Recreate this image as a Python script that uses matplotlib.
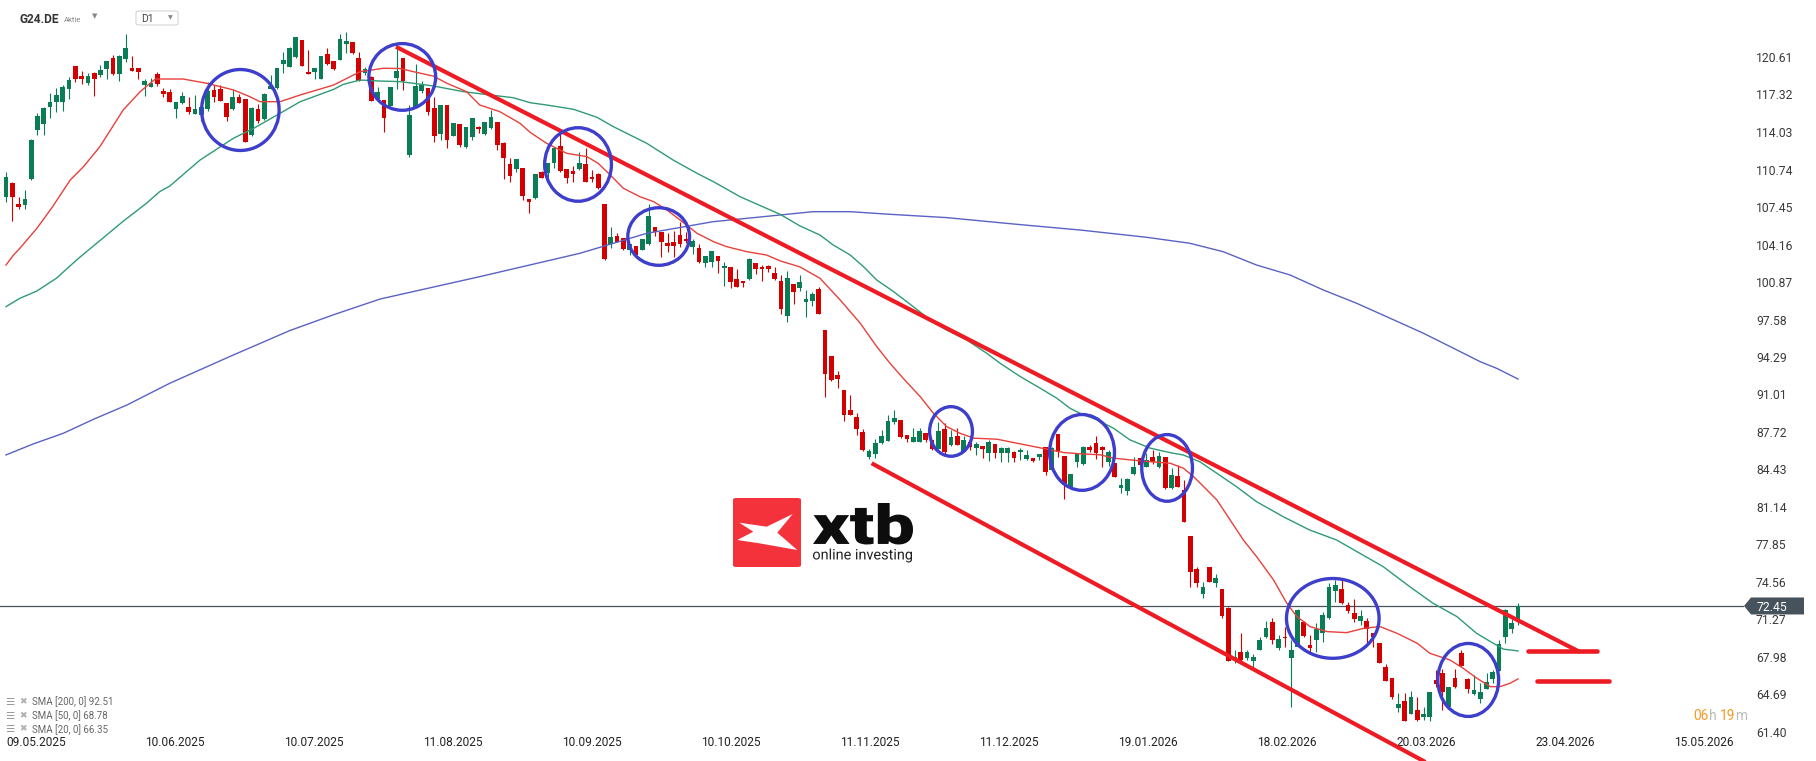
import numpy as np
import matplotlib
matplotlib.use("Agg")
import matplotlib.pyplot as plt
from matplotlib.patches import Ellipse, Polygon, PathPatch, FancyBboxPatch
from matplotlib.textpath import TextPath
from matplotlib.font_manager import FontProperties
from matplotlib.transforms import Affine2D, blended_transform_factory

W, H = 1816, 761

# ---- daily candles ----
opens = [108.36, 109.53, 107.72, 107.66, 109.91, 114.21, 114.70, 116.25, 116.63, 116.63,
         117.83, 119.82, 118.94, 118.36, 119.24, 119.00, 119.53, 120.49, 119.12, 120.43,
         119.62, 119.62, 118.12, 118.01, 119.09, 117.66, 117.51, 116.05, 116.55, 116.19,
         115.61, 115.52, 116.02, 117.72, 117.77, 116.55, 116.02, 117.13, 116.93, 113.77,
         116.02, 115.14, 117.83, 117.86, 120.00, 119.76, 120.58, 122.10, 119.32, 119.32,
         118.68, 120.87, 120.26, 120.35, 121.78, 121.90, 120.49, 119.18, 118.88, 116.93,
         116.84, 116.34, 118.80, 120.49, 112.01, 116.19, 117.66, 117.86, 116.11, 113.88,
         116.37, 113.71, 114.70, 112.69, 113.62, 114.47, 113.83, 114.35, 114.88, 113.04,
         111.19, 110.79, 110.85, 108.12, 108.21, 110.55, 110.41, 111.28, 112.80, 110.79,
         110.58, 110.76, 111.22, 110.05, 110.35, 107.72, 104.18, 104.94, 104.70, 103.68,
         104.03, 103.68, 104.18, 105.70, 105.23, 104.32, 104.41, 105.00, 104.67, 103.91,
         103.88, 102.51, 102.60, 103.15, 102.10, 102.19, 101.11, 100.96, 101.11, 102.51,
         102.22, 102.31, 101.63, 100.96, 97.92, 100.70, 100.37, 99.15, 99.23, 100.26,
         96.66, 94.38, 92.71, 91.40, 89.64, 89.06, 87.74, 85.49, 85.78, 86.72,
         86.95, 88.62, 88.77, 87.45, 86.87, 86.87, 87.60, 87.01, 86.22, 87.98,
         86.57, 87.36, 85.99, 86.87, 86.28, 86.49, 85.84, 86.63, 85.84, 85.84,
         85.99, 85.93, 85.34, 85.40, 85.49, 86.37, 84.38, 87.54, 85.61, 82.92,
         85.11, 84.88, 86.43, 86.72, 86.43, 85.11, 84.96, 82.83, 82.57, 84.00,
         85.40, 84.67, 85.49, 84.67, 85.49, 82.78, 83.86, 82.63, 78.59, 75.70,
         73.48, 75.85, 74.44, 73.95, 72.31, 67.72, 68.39, 67.86, 67.66, 68.59,
         69.71, 71.02, 68.74, 69.76, 67.86, 68.89, 71.08, 69.03, 69.47, 70.11,
         71.37, 73.77, 73.92, 72.54, 71.81, 71.17, 71.14, 70.06, 69.18, 67.07,
         66.11, 63.48, 64.12, 62.98, 63.33, 62.69, 62.69, 65.96, 66.55, 63.56,
         66.17, 68.36, 66.02, 64.71, 64.27, 65.17, 66.02, 66.78, 69.71, 70.41,
         71.17]
highs = [110.49, 109.67, 108.30, 108.94, 113.40, 115.67, 116.25, 117.42, 117.86, 118.15,
         118.83, 119.85, 119.38, 119.24, 119.30, 119.91, 120.30, 120.79, 120.79, 122.60,
         120.70, 119.65, 118.68, 118.74, 119.26, 117.86, 117.80, 116.66, 117.57, 117.13,
         117.28, 116.84, 118.45, 118.15, 118.15, 116.58, 117.72, 117.36, 116.96, 116.20,
         116.49, 117.42, 119.03, 119.65, 121.08, 121.46, 122.38, 122.14, 121.22, 119.65,
         120.73, 121.37, 120.29, 122.60, 122.77, 121.93, 121.08, 119.70, 118.91, 117.95,
         116.87, 117.98, 121.52, 120.52, 116.40, 119.97, 118.50, 117.89, 117.13, 116.40,
         116.40, 114.82, 114.73, 114.47, 115.26, 114.56, 114.94, 115.96, 114.91, 113.18,
         111.72, 111.66, 110.88, 108.15, 110.38, 110.58, 111.31, 112.69, 114.06, 110.82,
         111.05, 112.31, 112.60, 110.70, 110.41, 107.75, 105.73, 105.14, 104.73, 104.21,
         104.06, 104.65, 107.72, 105.73, 105.26, 105.14, 105.35, 106.11, 105.29, 104.62,
         104.18, 103.18, 103.62, 103.18, 102.66, 102.22, 101.98, 100.99, 103.01, 102.54,
         102.36, 102.34, 102.22, 101.49, 101.84, 100.73, 101.49, 100.17, 100.02, 100.46,
         96.69, 94.41, 93.09, 91.43, 90.96, 89.35, 87.95, 86.19, 87.07, 87.89,
         89.20, 89.64, 88.80, 87.48, 88.03, 88.03, 87.63, 87.04, 88.62, 88.47,
         87.89, 88.03, 87.36, 86.90, 86.81, 86.52, 87.01, 86.66, 86.37, 86.37,
         86.02, 86.34, 86.13, 85.43, 85.81, 86.40, 86.37, 87.57, 85.64, 84.03,
         85.78, 86.46, 86.57, 87.36, 86.46, 86.13, 84.99, 83.71, 83.65, 85.55,
         85.43, 85.84, 86.13, 85.99, 85.52, 84.59, 84.82, 83.51, 78.62, 75.90,
         74.59, 75.88, 75.26, 73.98, 72.34, 68.59, 70.11, 68.59, 68.24, 69.76,
         71.17, 71.43, 69.91, 70.64, 69.50, 72.16, 71.11, 69.91, 70.99, 71.96,
         74.44, 74.73, 74.73, 72.83, 73.07, 72.10, 71.37, 70.09, 69.21, 67.37,
         66.14, 64.79, 64.79, 65.03, 64.50, 63.62, 64.91, 66.84, 66.90, 65.35,
         66.90, 68.59, 66.11, 66.40, 65.67, 66.55, 66.84, 69.47, 72.16, 71.28,
         72.75]
lows = [107.86, 106.25, 107.25, 107.28, 109.85, 113.80, 113.80, 115.29, 115.81, 115.90,
        116.90, 118.39, 118.24, 118.15, 117.22, 118.88, 118.68, 119.05, 118.53, 120.20,
        119.35, 118.65, 117.22, 117.98, 118.07, 117.13, 116.65, 115.23, 116.50, 115.58,
        115.58, 115.03, 115.87, 116.69, 116.75, 115.03, 115.98, 116.57, 113.15, 113.70,
        114.85, 115.10, 117.80, 117.82, 119.24, 119.72, 120.55, 119.82, 119.08, 118.65,
        118.65, 119.94, 119.47, 120.32, 120.93, 120.84, 118.50, 119.00, 116.75, 116.90,
        114.00, 116.30, 117.77, 117.72, 111.81, 116.15, 117.42, 115.52, 113.18, 113.33,
        112.60, 113.68, 112.69, 112.66, 113.33, 113.97, 113.80, 114.32, 112.45, 109.91,
        109.67, 110.55, 108.07, 106.90, 108.18, 109.97, 110.11, 110.85, 110.55, 109.59,
        109.67, 110.73, 109.64, 109.67, 109.03, 102.83, 103.83, 104.38, 103.68, 103.24,
        103.15, 103.65, 104.15, 104.91, 103.10, 103.53, 103.10, 103.97, 104.27, 103.33,
        102.57, 102.22, 102.22, 101.63, 100.55, 100.32, 100.43, 100.41, 101.08, 101.57,
        100.99, 101.78, 101.05, 98.06, 97.39, 98.94, 100.11, 97.83, 98.80, 98.03,
        90.81, 92.21, 91.60, 88.71, 89.17, 87.45, 86.05, 85.32, 85.40, 86.66,
        86.92, 88.41, 87.16, 86.87, 86.84, 86.84, 86.81, 86.13, 86.19, 85.78,
        86.49, 86.54, 85.96, 86.13, 85.70, 85.40, 85.20, 85.40, 85.05, 85.05,
        85.05, 85.26, 85.26, 85.05, 85.26, 83.94, 84.35, 85.55, 81.81, 82.89,
        84.67, 84.85, 85.99, 85.34, 84.61, 84.73, 83.77, 82.39, 82.19, 83.97,
        84.73, 84.64, 84.88, 84.53, 82.74, 82.75, 82.89, 79.79, 74.09, 74.09,
        73.13, 74.56, 74.15, 71.43, 67.63, 67.42, 67.57, 67.72, 66.93, 68.56,
        69.68, 69.12, 68.59, 68.89, 63.56, 68.83, 69.71, 68.30, 68.45, 69.33,
        71.34, 72.83, 72.66, 71.87, 71.08, 70.79, 69.18, 68.89, 67.45, 65.87,
        64.27, 63.18, 62.37, 62.95, 62.40, 62.45, 62.37, 65.38, 63.33, 63.53,
        65.23, 67.16, 64.85, 64.65, 63.92, 65.14, 65.73, 66.75, 69.24, 70.06,
        70.79]
closes = [110.11, 108.30, 107.48, 108.12, 113.33, 115.43, 116.17, 116.63, 117.28, 117.95,
          118.59, 118.68, 118.71, 118.94, 118.65, 119.47, 120.26, 119.12, 120.73, 121.43,
          119.38, 119.32, 118.53, 118.30, 118.21, 117.34, 116.69, 116.63, 117.19, 115.79,
          116.02, 116.19, 117.66, 117.13, 116.78, 115.38, 117.07, 116.60, 113.18, 116.17,
          115.03, 117.34, 118.07, 119.62, 120.35, 121.43, 122.34, 119.85, 119.12, 119.62,
          120.70, 119.97, 119.53, 122.19, 122.01, 120.93, 118.53, 119.53, 116.78, 117.51,
          115.23, 117.95, 119.38, 118.53, 115.52, 118.07, 118.15, 115.81, 113.71, 116.37,
          113.33, 114.79, 112.89, 114.44, 115.23, 114.26, 114.91, 115.32, 112.89, 111.72,
          110.20, 111.63, 108.45, 107.86, 110.35, 110.03, 111.28, 112.66, 110.64, 110.00,
          110.32, 111.28, 109.67, 109.88, 109.15, 102.86, 104.85, 104.41, 103.74, 104.18,
          103.24, 104.62, 106.66, 105.29, 104.35, 104.06, 104.06, 104.21, 104.47, 104.47,
          102.60, 103.15, 103.59, 102.74, 102.28, 100.90, 100.46, 100.76, 102.89, 102.04,
          101.98, 102.04, 101.17, 98.47, 101.25, 100.02, 100.84, 99.38, 99.82, 98.06,
          92.80, 92.27, 92.36, 89.20, 89.20, 87.98, 86.13, 86.05, 86.72, 87.36,
          88.68, 88.91, 87.25, 87.07, 87.25, 87.80, 87.01, 86.22, 87.80, 85.99,
          87.25, 86.57, 87.01, 86.43, 86.66, 86.22, 86.81, 85.90, 86.34, 86.34,
          85.40, 86.13, 85.70, 85.20, 85.78, 84.18, 86.34, 85.93, 83.06, 84.00,
          85.75, 86.43, 86.13, 85.84, 86.13, 85.99, 83.80, 83.06, 83.59, 84.67,
          84.82, 85.26, 85.11, 85.64, 82.77, 83.95, 82.92, 79.85, 75.47, 74.44,
          74.15, 74.59, 74.88, 71.61, 67.66, 67.95, 67.72, 68.39, 68.01, 69.47,
          70.49, 69.47, 69.53, 69.62, 68.59, 72.10, 69.82, 68.74, 70.41, 71.66,
          74.15, 74.30, 72.69, 72.02, 71.28, 71.58, 70.44, 69.71, 67.48, 65.90,
          64.50, 63.83, 62.40, 64.44, 62.45, 62.98, 64.88, 65.58, 64.94, 65.32,
          65.32, 67.19, 65.14, 65.09, 64.88, 65.82, 66.69, 69.12, 72.10, 70.99,
          72.45]

# ---- moving averages, sampled along the drawn lines (bar index, value) ----
sma20_x = [0, 1.2, 2.2, 4.9, 7.3, 10.2, 12.3, 14.9, 18.6, 21.3, 23.7, 28.1, 31.9, 36.1,
           38.7, 40.3, 43.5, 46.7, 52.0, 56.2, 59.9, 62.5, 64.7, 67.8, 70.0, 73.1, 75.2,
           78.4, 81.6, 83.2, 85.8, 89.0, 92.2, 94.0, 95.9, 98.0, 100.6, 102.8, 104.9, 107.0,
           109.7, 112.3, 114.4, 117.6, 120.7, 122.9, 126.0, 129.2, 132.4, 135.6, 138.2,
           140.3, 142.4, 145.1, 147.2, 149.3, 151.4, 153.6, 157.3, 159.9, 163.1, 165.7,
           167.9, 170.5, 173.7, 175.8, 178.4, 181.1, 184.8, 186.9, 188.5, 190.1, 192.2,
           194.3, 196.4, 198.5, 201.2, 203.3, 204.9, 207.0, 209.7, 212.8, 215.5, 218.1,
           220.8, 224.0, 226.0, 229.2, 231.3, 233.5, 235.6, 237.1, 238.7, 240]
sma20_y = [102.36, 103.24, 103.83, 105.58, 107.4, 109.82, 110.99, 112.74, 115.96, 117.57,
           118.68, 118.68, 118.30, 117.72, 117.13, 116.69, 116.69, 117.28, 118.15, 119.32,
           119.62, 119.60, 119.32, 118.94, 118.30, 117.57, 116.40, 115.81, 114.79, 114.00,
           113.04, 112.16, 111.87, 111.28, 110.26, 109.09, 108.36, 107.92, 107.19, 106.31,
           105.14, 104.41, 103.97, 103.53, 103.24, 102.72, 102.20, 101.20, 99.30, 97.25,
           95.21, 93.75, 92.43, 90.82, 89.36, 88.19, 87.61, 87.17, 87.08, 86.79, 86.44,
           86.15, 85.91, 85.80, 85.71, 85.42, 85.27, 85.13, 84.97, 84.53, 83.80, 82.92,
           81.75, 80.00, 78.24, 76.78, 74.73, 72.69, 71.52, 70.64, 70.20, 70.11, 70.49,
           70.64, 70.05, 69.18, 68.30, 67.71, 66.98, 66.10, 65.37, 65.37, 65.66, 66.05]
sma50_x = [0, 2.2, 4.9, 8.0, 11.2, 13.1, 14.4, 18.6, 22.3, 24.4, 26.0, 30.8, 36.1, 39.3,
           43.5, 46.7, 52.0, 53.5, 56.2, 59.4, 62.5, 64.7, 67.8, 72.6, 76.8, 80.5, 83.2,
           85.8, 90.1, 93.8, 96.4, 101.7, 105.9, 109.7, 112.3, 116.5, 120.1, 122.9, 126.0,
           129.2, 131.3, 134.0, 136.1, 138.2, 140.9, 144.0, 146.7, 149.3, 152.5, 155.7,
           157.8, 161.0, 164.2, 166.8, 168.9, 170.5, 173.2, 175.8, 178.4, 181.6, 184.8,
           186.9, 189.5, 192.2, 195.3, 198.5, 202.7, 206.9, 211.2, 214.9, 218.6, 222.8,
           226.5, 230.3, 233.4, 235.6, 237.7, 240]
sma50_y = [98.71, 99.44, 100.08, 101.20, 102.80, 103.68, 104.27, 106.20, 107.78, 108.80,
           109.29, 111.57, 113.48, 114.35, 115.67, 116.69, 117.77, 118.20, 118.59, 118.50,
           118.45, 118.30, 118.07, 117.57, 117.28, 117.04, 116.60, 116.40, 116.02, 115.32,
           114.50, 113.04, 111.57, 110.40, 109.67, 108.36, 107.48, 106.80, 105.80, 104.99,
           104.12, 103.24, 102.22, 101.05, 100.02, 98.71, 97.54, 96.66, 95.78, 94.61,
           93.74, 92.57, 91.54, 90.67, 89.79, 89.35, 88.77, 88.04, 87.02, 86.30, 85.90,
           85.69, 85.10, 84.09, 82.92, 81.60, 80.29, 79.12, 78.24, 77.07, 75.90, 74.15,
           72.69, 71.52, 70.06, 69.33, 68.66, 68.51]
sma200_x = [0, 4.3, 9.1, 13.9, 19.2, 26.0, 35.8, 45.0, 52.0, 59.4, 75.2, 91.1, 101.7,
            112.2, 122.9, 128.1, 134.0, 140.3, 149.3, 159.9, 170.5, 181.1, 187.9, 193.2,
            198.5, 203.8, 209.1, 214.4, 219.7, 225.0, 230.3, 234.0, 236.6, 240]
sma200_y = [85.70, 86.66, 87.60, 88.83, 90.08, 91.99, 94.40, 96.60, 98.00, 99.38, 101.34,
            103.39, 105.14, 106.16, 106.75, 107.04, 107.04, 106.81, 106.52, 105.96, 105.43,
            104.79, 104.27, 103.53, 102.36, 101.49, 100.17, 99.00, 97.69, 96.37, 94.91,
            93.88, 93.30, 92.36]

# ---- drawn analysis: channel, levels, highlighted zones ----
chan_up_x, chan_up_y = [61.9, 249.8], [121.51, 68.42]
chan_lo_x, chan_lo_y = [137.4, 226.0], [84.97, 58.55]
level_x0 = [241.6, 243.0]
level_x1 = [252.5, 254.5]
level_y = [68.46, 65.87]
zone_x = [37.2, 62.9, 90.8, 103.6, 150.0, 170.8, 184.3, 210.6, 232.1]
zone_y = [115.96, 118.86, 111.18, 104.86, 87.76, 85.92, 84.56, 71.36, 65.96]
zone_w = [12.3, 10.6, 10.6, 9.8, 6.8, 10.3, 8.05, 14.7, 9.65]
zone_h = [7.1, 5.85, 6.45, 5.05, 4.35, 6.65, 5.85, 7.0, 6.4]

price_ticks = [120.61, 117.32, 114.03, 110.74, 107.45, 104.16, 100.87, 97.58, 94.29, 91.01,
               87.72, 84.43, 81.14, 77.85, 74.56, 71.27, 67.98, 64.69, 61.40]
date_pos = [4.8, 26.8, 48.9, 71.0, 93.0, 115.1, 137.1, 159.2, 181.3, 203.3, 225.4, 247.5, 269.5]
date_labels = ["09.05.2025", "10.06.2025", "10.07.2025", "11.08.2025", "10.09.2025",
               "10.10.2025", "11.11.2025", "11.12.2025", "19.01.2026", "18.02.2026",
               "20.03.2026", "23.04.2026", "15.05.2026"]
last_price = 72.45
legend_rows = ["SMA [200, 0] 92.51", "SMA [50, 0] 68.78", "SMA [20, 0] 66.35"]

GREEN, RED = "#0b7d55", "#d20000"
plt.rcParams["font.family"] = ["Roboto", "DejaVu Sans"]


def px(x, y):
    # screen pixel (from top-left) -> figure fraction
    return x / W, 1 - y / H


fig = plt.figure(figsize=(W / 100, H / 100), dpi=100)
ax = fig.add_axes([0, 0, 1744 / W, 1])
ax.set_xlim(-0.952, 275.87)
ax.set_ylim(58.85, 125.61)
for s in ax.spines.values():
    s.set_visible(False)
ax.set_xticks([])
ax.yaxis.tick_right()
ax.set_yticks(price_ticks)
ax.set_yticklabels([f"{v:.2f}" for v in price_ticks])
ax.tick_params(axis="y", length=0, pad=8.6, labelsize=8.7, labelcolor="#3a3a3a")

# candles
o, hi, lo, c = (np.array(a) for a in (opens, highs, lows, closes))
x = np.arange(len(o))
col = np.where(c >= o, GREEN, RED)
ax.vlines(x, lo, hi, colors=col, lw=0.8, zorder=2)
ax.bar(x, np.maximum(np.abs(c - o), 0.09), bottom=np.minimum(o, c), width=0.74,
       color=col, lw=0, zorder=3)

# moving averages
ax.plot(sma200_x, sma200_y, color="#5a62c4", lw=1.0, zorder=4)
ax.plot(sma50_x, sma50_y, color="#2f9b73", lw=1.0, zorder=4)
ax.plot(sma20_x, sma20_y, color="#e8403a", lw=1.0, zorder=4)

# current price line
ax.axhline(last_price, color="#46535c", lw=0.9, zorder=1)

# channel and levels
ax.plot(chan_up_x, chan_up_y, color="#ed1c24", lw=3.0, zorder=5, solid_capstyle="butt")
ax.plot(chan_lo_x, chan_lo_y, color="#ed1c24", lw=3.0, zorder=5, solid_capstyle="butt")
ax.hlines(level_y, level_x0, level_x1, color="#ed1c24", lw=3.3, zorder=5, capstyle="round")

for cx, cy, w, h in zip(zone_x, zone_y, zone_w, zone_h):
    ax.add_patch(Ellipse((cx, cy), w, h, fill=False, ec="#3e3ecc", lw=2.4, zorder=6))

# dates along the bottom
tr = blended_transform_factory(ax.transData, ax.transAxes)
for p, lab in zip(date_pos, date_labels):
    ax.text(p, 1 - 743 / H, lab, transform=tr, ha="center", va="center",
            fontsize=8.6, color="#222222")

# price tag on the right axis
yd = H - (ax.transData.transform((0, last_price))[1])
tag = [px(1744, yd), px(1751, yd - 8.5), px(1804, yd - 8.5), px(1804, yd + 8.5), px(1751, yd + 8.5)]
fig.add_artist(Polygon(tag, closed=True, transform=fig.transFigure, fc="#46535c", ec="none"))
fig.text(*px(1757, yd), f"{last_price:.2f}", color="white", fontsize=8.7, va="center_baseline")

# header
fig.text(*px(20, 19.5), "G24.DE", fontsize=8.6, fontweight="bold", color="#333333", va="center")
fig.text(*px(64, 19.8), "Aktie", fontsize=5.6, color="#888888", va="center")
fig.text(*px(95, 16.5), "▼", fontsize=5, color="#888888", ha="center", va="center",
         family="DejaVu Sans")
fig.add_artist(FancyBboxPatch(px(136, 25), 42 / W, 14 / H, boxstyle="round,pad=0,rounding_size=0.002",
                              transform=fig.transFigure, fc="white", ec="#d4d4d4", lw=0.8))
fig.text(*px(141, 19), "D1", fontsize=7.4, color="#444444", va="center")
fig.text(*px(170.5, 17.5), "▼", fontsize=4.5, color="#888888", ha="center", va="center",
         family="DejaVu Sans")

# indicator legend
for k, row in enumerate(legend_rows):
    yy = 702 + 13.6 * k
    fig.text(*px(5, yy), "☰", fontsize=7.5, color="#9a9a9a", va="center", family="DejaVu Sans")
    fig.text(*px(19.5, yy), "✖", fontsize=6.6, color="#b0b0b0", va="center", family="DejaVu Sans")
    fig.text(*px(32, yy), row, fontsize=7.0, color="#666666", va="center")

# bar timer
for s, xx, cc in [("06", 1693, "#f59a23"), ("h", 1708.5, "#bbbbbb"),
                  ("19", 1719.5, "#f59a23"), ("m", 1735, "#bbbbbb")]:
    fig.text(*px(xx, 716), s, fontsize=9.9, color=cc, va="center")

# watermark logo
fig.add_artist(FancyBboxPatch(px(733, 567), 68 / W, 69 / H,
                              boxstyle="round,pad=0,rounding_size=0.002",
                              transform=fig.transFigure, fc="#f4323c", ec="none"))
mark = [(739.3, 522.7), (766.7, 526.7), (792.7, 514), (777.3, 532.7), (797.3, 550),
        (759.3, 543.3), (737.3, 540), (753.3, 531.7)]
fig.add_artist(Polygon([px(a, b) for a, b in mark], closed=True,
                       transform=fig.transFigure, fc="white", ec="none"))


def fit_text(s, x0, y0, x1, y1, weight, color):
    tp = TextPath((0, 0), s, size=100, prop=FontProperties(family="Roboto", weight=weight))
    bb = tp.get_extents()
    t = (Affine2D().translate(-bb.x0, -bb.y0)
         .scale((x1 - x0) / bb.width / W, (y1 - y0) / bb.height / H)
         .translate(x0 / W, 1 - y1 / H))
    fig.add_artist(PathPatch(tp, transform=t + fig.transFigure, fc=color, ec="none"))


fit_text("xtb", 813, 503, 913, 544.5, 900, "#0d0d0d")
fit_text("online investing", 813, 548.5, 912, 562.5, "normal", "#222222")

fig.savefig("out.png", dpi=100)
